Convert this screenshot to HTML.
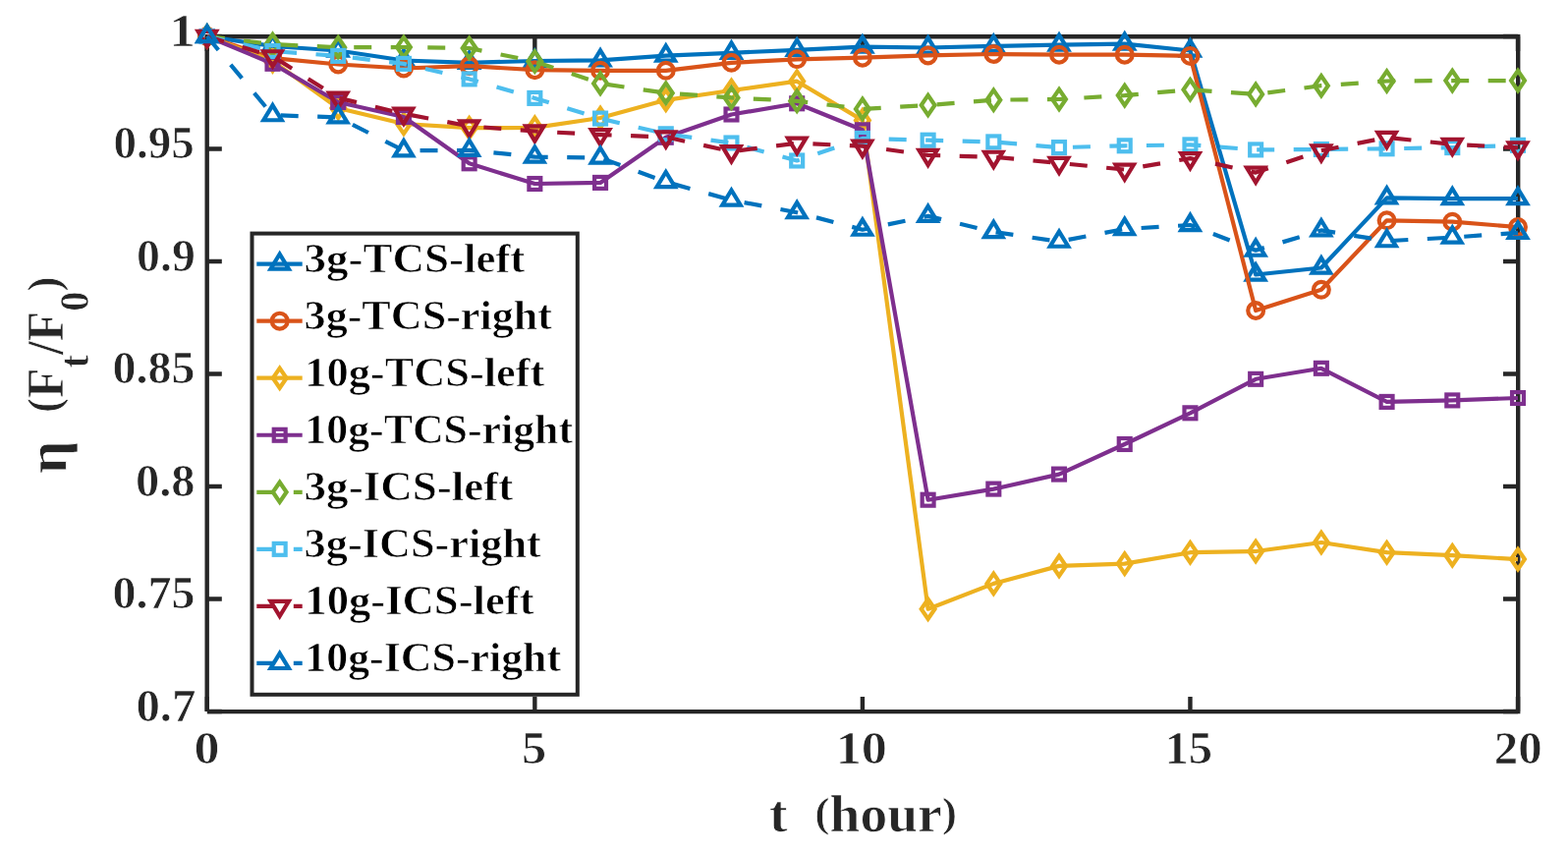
<!DOCTYPE html>
<html><head><meta charset="utf-8"><title>eta vs t</title>
<style>
html,body{margin:0;padding:0;background:#fff;width:1596px;height:868px;overflow:hidden}
svg{display:block}
text{font-family:"Liberation Serif","DejaVu Serif",serif;font-weight:bold;stroke:#fff;stroke-width:0.7px;stroke-linejoin:round}
</style></head><body>
<svg width="1596" height="868" viewBox="0 0 1596 868">
<rect x="0" y="0" width="1596" height="868" fill="#fff"/>
<g fill="none" stroke="#262626" stroke-width="4.4">
<path d="M208.5 37.2H1547.4M1545.2 35V726.3M211.1 724.1H1547.4M210.7 35V723.8"/>
<path d="M210.80 724.0V709.0M210.80 37.0V52.0M544.35 724.0V709.0M544.35 37.0V52.0M877.90 724.0V709.0M877.90 37.0V52.0M1211.45 724.0V709.0M1211.45 37.0V52.0M1545.00 724.0V709.0M1545.00 37.0V52.0M210.8 37.00H225.8M1545.0 37.00H1530.0M210.8 151.50H225.8M1545.0 151.50H1530.0M210.8 266.00H225.8M1545.0 266.00H1530.0M210.8 380.50H225.8M1545.0 380.50H1530.0M210.8 495.00H225.8M1545.0 495.00H1530.0M210.8 609.50H225.8M1545.0 609.50H1530.0M210.8 724.00H225.8M1545.0 724.00H1530.0"/>
</g>
<g fill="none" stroke="#0072BD" stroke-width="4.2">
<polyline points="210.80,37.00 277.51,47.00 344.22,51.50 410.93,61.50 477.64,63.80 544.35,62.00 611.06,61.40 677.77,56.60 744.48,53.80 811.19,50.80 877.90,47.60 944.61,48.50 1011.32,46.90 1078.03,45.70 1144.74,44.60 1211.45,51.50 1278.16,279.50 1344.87,272.50 1411.58,201.40 1478.29,202.10 1545.00,202.10" stroke-linejoin="round"/>
<g><path d="M210.80 26.87L220.00 42.07L201.60 42.07Z"/><path d="M277.51 36.87L286.71 52.07L268.31 52.07Z"/><path d="M344.22 41.37L353.42 56.57L335.02 56.57Z"/><path d="M410.93 51.37L420.13 66.57L401.73 66.57Z"/><path d="M477.64 53.67L486.84 68.87L468.44 68.87Z"/><path d="M544.35 51.87L553.55 67.07L535.15 67.07Z"/><path d="M611.06 51.27L620.26 66.47L601.86 66.47Z"/><path d="M677.77 46.47L686.97 61.67L668.57 61.67Z"/><path d="M744.48 43.67L753.68 58.87L735.28 58.87Z"/><path d="M811.19 40.67L820.39 55.87L801.99 55.87Z"/><path d="M877.90 37.47L887.10 52.67L868.70 52.67Z"/><path d="M944.61 38.37L953.81 53.57L935.41 53.57Z"/><path d="M1011.32 36.77L1020.52 51.97L1002.12 51.97Z"/><path d="M1078.03 35.57L1087.23 50.77L1068.83 50.77Z"/><path d="M1144.74 34.47L1153.94 49.67L1135.54 49.67Z"/><path d="M1211.45 41.37L1220.65 56.57L1202.25 56.57Z"/><path d="M1278.16 269.37L1287.36 284.57L1268.96 284.57Z"/><path d="M1344.87 262.37L1354.07 277.57L1335.67 277.57Z"/><path d="M1411.58 191.27L1420.78 206.47L1402.38 206.47Z"/><path d="M1478.29 191.97L1487.49 207.17L1469.09 207.17Z"/><path d="M1545.00 191.97L1554.20 207.17L1535.80 207.17Z"/></g>
</g>
<g fill="none" stroke="#D95319" stroke-width="4.2">
<polyline points="210.80,37.00 277.51,59.20 344.22,65.50 410.93,69.50 477.64,67.20 544.35,71.20 611.06,71.80 677.77,71.80 744.48,63.80 811.19,60.30 877.90,58.70 944.61,56.40 1011.32,55.00 1078.03,55.70 1144.74,55.70 1211.45,56.90 1278.16,316.00 1344.87,294.80 1411.58,224.30 1478.29,225.70 1545.00,231.00" stroke-linejoin="round"/>
<g><circle cx="210.80" cy="37.00" r="7.9"/><circle cx="277.51" cy="59.20" r="7.9"/><circle cx="344.22" cy="65.50" r="7.9"/><circle cx="410.93" cy="69.50" r="7.9"/><circle cx="477.64" cy="67.20" r="7.9"/><circle cx="544.35" cy="71.20" r="7.9"/><circle cx="611.06" cy="71.80" r="7.9"/><circle cx="677.77" cy="71.80" r="7.9"/><circle cx="744.48" cy="63.80" r="7.9"/><circle cx="811.19" cy="60.30" r="7.9"/><circle cx="877.90" cy="58.70" r="7.9"/><circle cx="944.61" cy="56.40" r="7.9"/><circle cx="1011.32" cy="55.00" r="7.9"/><circle cx="1078.03" cy="55.70" r="7.9"/><circle cx="1144.74" cy="55.70" r="7.9"/><circle cx="1211.45" cy="56.90" r="7.9"/><circle cx="1278.16" cy="316.00" r="7.9"/><circle cx="1344.87" cy="294.80" r="7.9"/><circle cx="1411.58" cy="224.30" r="7.9"/><circle cx="1478.29" cy="225.70" r="7.9"/><circle cx="1545.00" cy="231.00" r="7.9"/></g>
</g>
<g fill="none" stroke="#EDB120" stroke-width="4.2">
<polyline points="210.80,37.00 277.51,62.10 344.22,110.00 410.93,126.00 477.64,130.20 544.35,129.90 611.06,120.00 677.77,101.80 744.48,92.00 811.19,82.70 877.90,122.40 944.61,619.70 1011.32,593.90 1078.03,575.90 1144.74,573.60 1211.45,562.20 1278.16,561.00 1344.87,552.00 1411.58,562.20 1478.29,565.20 1545.00,569.10" stroke-linejoin="round"/>
<g><path d="M210.80 26.90L217.70 37.00L210.80 47.10L203.90 37.00Z"/><path d="M277.51 52.00L284.41 62.10L277.51 72.20L270.61 62.10Z"/><path d="M344.22 99.90L351.12 110.00L344.22 120.10L337.32 110.00Z"/><path d="M410.93 115.90L417.83 126.00L410.93 136.10L404.03 126.00Z"/><path d="M477.64 120.10L484.54 130.20L477.64 140.30L470.74 130.20Z"/><path d="M544.35 119.80L551.25 129.90L544.35 140.00L537.45 129.90Z"/><path d="M611.06 109.90L617.96 120.00L611.06 130.10L604.16 120.00Z"/><path d="M677.77 91.70L684.67 101.80L677.77 111.90L670.87 101.80Z"/><path d="M744.48 81.90L751.38 92.00L744.48 102.10L737.58 92.00Z"/><path d="M811.19 72.60L818.09 82.70L811.19 92.80L804.29 82.70Z"/><path d="M877.90 112.30L884.80 122.40L877.90 132.50L871.00 122.40Z"/><path d="M944.61 609.60L951.51 619.70L944.61 629.80L937.71 619.70Z"/><path d="M1011.32 583.80L1018.22 593.90L1011.32 604.00L1004.42 593.90Z"/><path d="M1078.03 565.80L1084.93 575.90L1078.03 586.00L1071.13 575.90Z"/><path d="M1144.74 563.50L1151.64 573.60L1144.74 583.70L1137.84 573.60Z"/><path d="M1211.45 552.10L1218.35 562.20L1211.45 572.30L1204.55 562.20Z"/><path d="M1278.16 550.90L1285.06 561.00L1278.16 571.10L1271.26 561.00Z"/><path d="M1344.87 541.90L1351.77 552.00L1344.87 562.10L1337.97 552.00Z"/><path d="M1411.58 552.10L1418.48 562.20L1411.58 572.30L1404.68 562.20Z"/><path d="M1478.29 555.10L1485.19 565.20L1478.29 575.30L1471.39 565.20Z"/><path d="M1545.00 559.00L1551.90 569.10L1545.00 579.20L1538.10 569.10Z"/></g>
</g>
<g fill="none" stroke="#7E2F8E" stroke-width="4.2">
<polyline points="210.80,37.00 277.51,64.80 344.22,104.00 410.93,119.00 477.64,166.30 544.35,187.00 611.06,185.90 677.77,139.80 744.48,116.50 811.19,105.30 877.90,132.30 944.61,508.70 1011.32,497.60 1078.03,482.60 1144.74,452.00 1211.45,420.30 1278.16,385.80 1344.87,374.80 1411.58,408.90 1478.29,407.40 1545.00,405.00" stroke-linejoin="round"/>
<g><rect x="204.85" y="31.05" width="11.9" height="11.9"/><rect x="271.56" y="58.85" width="11.9" height="11.9"/><rect x="338.27" y="98.05" width="11.9" height="11.9"/><rect x="404.98" y="113.05" width="11.9" height="11.9"/><rect x="471.69" y="160.35" width="11.9" height="11.9"/><rect x="538.40" y="181.05" width="11.9" height="11.9"/><rect x="605.11" y="179.95" width="11.9" height="11.9"/><rect x="671.82" y="133.85" width="11.9" height="11.9"/><rect x="738.53" y="110.55" width="11.9" height="11.9"/><rect x="805.24" y="99.35" width="11.9" height="11.9"/><rect x="871.95" y="126.35" width="11.9" height="11.9"/><rect x="938.66" y="502.75" width="11.9" height="11.9"/><rect x="1005.37" y="491.65" width="11.9" height="11.9"/><rect x="1072.08" y="476.65" width="11.9" height="11.9"/><rect x="1138.79" y="446.05" width="11.9" height="11.9"/><rect x="1205.50" y="414.35" width="11.9" height="11.9"/><rect x="1272.21" y="379.85" width="11.9" height="11.9"/><rect x="1338.92" y="368.85" width="11.9" height="11.9"/><rect x="1405.63" y="402.95" width="11.9" height="11.9"/><rect x="1472.34" y="401.45" width="11.9" height="11.9"/><rect x="1539.05" y="399.05" width="11.9" height="11.9"/></g>
</g>
<g fill="none" stroke="#77AC30" stroke-width="4.2">
<polyline points="210.80,37.00 277.51,45.10 344.22,48.20 410.93,48.00 477.64,49.00 544.35,62.50 611.06,84.90 677.77,94.70 744.48,99.40 811.19,102.80 877.90,110.90 944.61,107.00 1011.32,101.70 1078.03,101.00 1144.74,97.10 1211.45,91.30 1278.16,95.90 1344.87,87.20 1411.58,82.50 1478.29,82.10 1545.00,82.10" stroke-linejoin="round" stroke-dasharray="18 19.5"/>
<g><path d="M210.80 26.90L217.70 37.00L210.80 47.10L203.90 37.00Z"/><path d="M277.51 35.00L284.41 45.10L277.51 55.20L270.61 45.10Z"/><path d="M344.22 38.10L351.12 48.20L344.22 58.30L337.32 48.20Z"/><path d="M410.93 37.90L417.83 48.00L410.93 58.10L404.03 48.00Z"/><path d="M477.64 38.90L484.54 49.00L477.64 59.10L470.74 49.00Z"/><path d="M544.35 52.40L551.25 62.50L544.35 72.60L537.45 62.50Z"/><path d="M611.06 74.80L617.96 84.90L611.06 95.00L604.16 84.90Z"/><path d="M677.77 84.60L684.67 94.70L677.77 104.80L670.87 94.70Z"/><path d="M744.48 89.30L751.38 99.40L744.48 109.50L737.58 99.40Z"/><path d="M811.19 92.70L818.09 102.80L811.19 112.90L804.29 102.80Z"/><path d="M877.90 100.80L884.80 110.90L877.90 121.00L871.00 110.90Z"/><path d="M944.61 96.90L951.51 107.00L944.61 117.10L937.71 107.00Z"/><path d="M1011.32 91.60L1018.22 101.70L1011.32 111.80L1004.42 101.70Z"/><path d="M1078.03 90.90L1084.93 101.00L1078.03 111.10L1071.13 101.00Z"/><path d="M1144.74 87.00L1151.64 97.10L1144.74 107.20L1137.84 97.10Z"/><path d="M1211.45 81.20L1218.35 91.30L1211.45 101.40L1204.55 91.30Z"/><path d="M1278.16 85.80L1285.06 95.90L1278.16 106.00L1271.26 95.90Z"/><path d="M1344.87 77.10L1351.77 87.20L1344.87 97.30L1337.97 87.20Z"/><path d="M1411.58 72.40L1418.48 82.50L1411.58 92.60L1404.68 82.50Z"/><path d="M1478.29 72.00L1485.19 82.10L1478.29 92.20L1471.39 82.10Z"/><path d="M1545.00 72.00L1551.90 82.10L1545.00 92.20L1538.10 82.10Z"/></g>
</g>
<g fill="none" stroke="#4DBEEE" stroke-width="4.2">
<polyline points="210.80,37.00 277.51,52.00 344.22,56.90 410.93,64.90 477.64,80.40 544.35,99.90 611.06,120.60 677.77,136.30 744.48,145.50 811.19,163.50 877.90,140.90 944.61,142.70 1011.32,144.40 1078.03,150.10 1144.74,148.30 1211.45,147.40 1278.16,152.40 1344.87,152.00 1411.58,151.30 1478.29,150.10 1545.00,147.80" stroke-linejoin="round" stroke-dasharray="18 19.5"/>
<g><rect x="204.85" y="31.05" width="11.9" height="11.9"/><rect x="271.56" y="46.05" width="11.9" height="11.9"/><rect x="338.27" y="50.95" width="11.9" height="11.9"/><rect x="404.98" y="58.95" width="11.9" height="11.9"/><rect x="471.69" y="74.45" width="11.9" height="11.9"/><rect x="538.40" y="93.95" width="11.9" height="11.9"/><rect x="605.11" y="114.65" width="11.9" height="11.9"/><rect x="671.82" y="130.35" width="11.9" height="11.9"/><rect x="738.53" y="139.55" width="11.9" height="11.9"/><rect x="805.24" y="157.55" width="11.9" height="11.9"/><rect x="871.95" y="134.95" width="11.9" height="11.9"/><rect x="938.66" y="136.75" width="11.9" height="11.9"/><rect x="1005.37" y="138.45" width="11.9" height="11.9"/><rect x="1072.08" y="144.15" width="11.9" height="11.9"/><rect x="1138.79" y="142.35" width="11.9" height="11.9"/><rect x="1205.50" y="141.45" width="11.9" height="11.9"/><rect x="1272.21" y="146.45" width="11.9" height="11.9"/><rect x="1338.92" y="146.05" width="11.9" height="11.9"/><rect x="1405.63" y="145.35" width="11.9" height="11.9"/><rect x="1472.34" y="144.15" width="11.9" height="11.9"/><rect x="1539.05" y="141.85" width="11.9" height="11.9"/></g>
</g>
<g fill="none" stroke="#A2142F" stroke-width="4.2">
<polyline points="210.80,37.00 277.51,57.30 344.22,99.60 410.93,115.70 477.64,128.40 544.35,133.50 611.06,137.10 677.77,139.40 744.48,154.20 811.19,145.70 877.90,148.70 944.61,157.90 1011.32,159.80 1078.03,165.90 1144.74,172.60 1211.45,161.10 1278.16,175.60 1344.87,153.30 1411.58,139.90 1478.29,146.80 1545.00,150.30" stroke-linejoin="round" stroke-dasharray="18 19.5"/>
<g><path d="M210.80 47.13L220.00 31.93L201.60 31.93Z"/><path d="M277.51 67.43L286.71 52.23L268.31 52.23Z"/><path d="M344.22 109.73L353.42 94.53L335.02 94.53Z"/><path d="M410.93 125.83L420.13 110.63L401.73 110.63Z"/><path d="M477.64 138.53L486.84 123.33L468.44 123.33Z"/><path d="M544.35 143.63L553.55 128.43L535.15 128.43Z"/><path d="M611.06 147.23L620.26 132.03L601.86 132.03Z"/><path d="M677.77 149.53L686.97 134.33L668.57 134.33Z"/><path d="M744.48 164.33L753.68 149.13L735.28 149.13Z"/><path d="M811.19 155.83L820.39 140.63L801.99 140.63Z"/><path d="M877.90 158.83L887.10 143.63L868.70 143.63Z"/><path d="M944.61 168.03L953.81 152.83L935.41 152.83Z"/><path d="M1011.32 169.93L1020.52 154.73L1002.12 154.73Z"/><path d="M1078.03 176.03L1087.23 160.83L1068.83 160.83Z"/><path d="M1144.74 182.73L1153.94 167.53L1135.54 167.53Z"/><path d="M1211.45 171.23L1220.65 156.03L1202.25 156.03Z"/><path d="M1278.16 185.73L1287.36 170.53L1268.96 170.53Z"/><path d="M1344.87 163.43L1354.07 148.23L1335.67 148.23Z"/><path d="M1411.58 150.03L1420.78 134.83L1402.38 134.83Z"/><path d="M1478.29 156.93L1487.49 141.73L1469.09 141.73Z"/><path d="M1545.00 160.43L1554.20 145.23L1535.80 145.23Z"/></g>
</g>
<g fill="none" stroke="#0072BD" stroke-width="4.2">
<polyline points="210.80,37.00 277.51,117.20 344.22,119.40 410.93,153.30 477.64,152.90 544.35,159.60 611.06,160.60 677.77,185.10 744.48,203.60 811.19,216.20 877.90,233.70 944.61,219.90 1011.32,236.00 1078.03,245.70 1144.74,233.00 1211.45,229.00 1278.16,254.70 1344.87,234.40 1411.58,245.20 1478.29,241.60 1545.00,236.80" stroke-linejoin="round" stroke-dasharray="18 19.5"/>
<g><path d="M210.80 26.87L220.00 42.07L201.60 42.07Z"/><path d="M277.51 107.07L286.71 122.27L268.31 122.27Z"/><path d="M344.22 109.27L353.42 124.47L335.02 124.47Z"/><path d="M410.93 143.17L420.13 158.37L401.73 158.37Z"/><path d="M477.64 142.77L486.84 157.97L468.44 157.97Z"/><path d="M544.35 149.47L553.55 164.67L535.15 164.67Z"/><path d="M611.06 150.47L620.26 165.67L601.86 165.67Z"/><path d="M677.77 174.97L686.97 190.17L668.57 190.17Z"/><path d="M744.48 193.47L753.68 208.67L735.28 208.67Z"/><path d="M811.19 206.07L820.39 221.27L801.99 221.27Z"/><path d="M877.90 223.57L887.10 238.77L868.70 238.77Z"/><path d="M944.61 209.77L953.81 224.97L935.41 224.97Z"/><path d="M1011.32 225.87L1020.52 241.07L1002.12 241.07Z"/><path d="M1078.03 235.57L1087.23 250.77L1068.83 250.77Z"/><path d="M1144.74 222.87L1153.94 238.07L1135.54 238.07Z"/><path d="M1211.45 218.87L1220.65 234.07L1202.25 234.07Z"/><path d="M1278.16 244.57L1287.36 259.77L1268.96 259.77Z"/><path d="M1344.87 224.27L1354.07 239.47L1335.67 239.47Z"/><path d="M1411.58 235.07L1420.78 250.27L1402.38 250.27Z"/><path d="M1478.29 231.47L1487.49 246.67L1469.09 246.67Z"/><path d="M1545.00 226.67L1554.20 241.87L1535.80 241.87Z"/></g>
</g>
<text x="172.20" y="46.70" fill="#262626" font-size="46" textLength="26.68" lengthAdjust="spacingAndGlyphs">1</text>
<text x="115.50" y="161.20" fill="#262626" font-size="46" textLength="82.31" lengthAdjust="spacingAndGlyphs">0.95</text>
<text x="139.00" y="275.70" fill="#262626" font-size="46" textLength="59.81" lengthAdjust="spacingAndGlyphs">0.9</text>
<text x="114.40" y="390.20" fill="#262626" font-size="46" textLength="84.09" lengthAdjust="spacingAndGlyphs">0.85</text>
<text x="137.90" y="504.70" fill="#262626" font-size="46" textLength="60.63" lengthAdjust="spacingAndGlyphs">0.8</text>
<text x="114.40" y="619.20" fill="#262626" font-size="46" textLength="84.09" lengthAdjust="spacingAndGlyphs">0.75</text>
<text x="138.40" y="733.70" fill="#262626" font-size="46" textLength="61.05" lengthAdjust="spacingAndGlyphs">0.7</text>
<text x="197.60" y="777.00" fill="#262626" font-size="46" textLength="26.01" lengthAdjust="spacingAndGlyphs">0</text>
<text x="531.10" y="777.00" fill="#262626" font-size="46" textLength="25.27" lengthAdjust="spacingAndGlyphs">5</text>
<text x="850.70" y="777.00" fill="#262626" font-size="46" textLength="52.19" lengthAdjust="spacingAndGlyphs">10</text>
<text x="1185.40" y="777.00" fill="#262626" font-size="46" textLength="48.82" lengthAdjust="spacingAndGlyphs">15</text>
<text x="1520.70" y="777.00" fill="#262626" font-size="46" textLength="48.89" lengthAdjust="spacingAndGlyphs">20</text>
<text x="783.00" y="846.00" fill="#262626" font-size="52" textLength="191.04" lengthAdjust="spacingAndGlyphs" xml:space="preserve">t  <tspan font-size="43" dy="-5">(</tspan><tspan dy="5">hour</tspan><tspan font-size="43" dy="-5">)</tspan></text>
<g transform="translate(64.4 0) rotate(-90)" fill="#262626"><text x="-482.00" y="2.5" font-size="56" textLength="33.50" lengthAdjust="spacingAndGlyphs">η</text><text x="-420.00" y="0" font-size="52" textLength="138.50" lengthAdjust="spacingAndGlyphs"><tspan font-size="47" dy="-4.5">(</tspan><tspan dy="4.5">F</tspan><tspan font-size="42" dy="26">t</tspan><tspan dy="-26">/F</tspan><tspan font-size="42" dy="26">0</tspan><tspan dy="-30.5" font-size="47">)</tspan></text></g>
<rect x="256.5" y="237.6" width="331.3" height="469.2" fill="#fff" stroke="#262626" stroke-width="4"/>
<g fill="none" stroke="#0072BD" stroke-width="4.2"><path d="M261.3 268.60H307.7"/><path d="M284.70 258.47L293.90 273.67L275.50 273.67Z"/></g>
<text x="309.60" y="277.10" fill="#000" font-size="43" textLength="224.74" lengthAdjust="spacingAndGlyphs">3g-TCS-left</text>
<g fill="none" stroke="#D95319" stroke-width="4.2"><path d="M261.3 326.65H307.7"/><circle cx="284.70" cy="326.65" r="7.9"/></g>
<text x="309.60" y="335.15" fill="#000" font-size="43" textLength="252.33" lengthAdjust="spacingAndGlyphs">3g-TCS-right</text>
<g fill="none" stroke="#EDB120" stroke-width="4.2"><path d="M261.3 384.70H307.7"/><path d="M284.70 374.60L291.60 384.70L284.70 394.80L277.80 384.70Z"/></g>
<text x="310.30" y="393.20" fill="#000" font-size="43" textLength="244.04" lengthAdjust="spacingAndGlyphs">10g-TCS-left</text>
<g fill="none" stroke="#7E2F8E" stroke-width="4.2"><path d="M261.3 442.75H307.7"/><rect x="278.75" y="436.80" width="11.9" height="11.9"/></g>
<text x="310.30" y="451.25" fill="#000" font-size="43" textLength="272.75" lengthAdjust="spacingAndGlyphs">10g-TCS-right</text>
<g fill="none" stroke="#77AC30" stroke-width="4.2"><path d="M261.3 500.80H307.7" stroke-dasharray="18 19.5"/><path d="M284.70 490.70L291.60 500.80L284.70 510.90L277.80 500.80Z"/></g>
<text x="309.60" y="509.30" fill="#000" font-size="43" textLength="212.63" lengthAdjust="spacingAndGlyphs">3g-ICS-left</text>
<g fill="none" stroke="#4DBEEE" stroke-width="4.2"><path d="M261.3 558.85H307.7" stroke-dasharray="18 19.5"/><rect x="278.75" y="552.90" width="11.9" height="11.9"/></g>
<text x="309.60" y="567.35" fill="#000" font-size="43" textLength="241.24" lengthAdjust="spacingAndGlyphs">3g-ICS-right</text>
<g fill="none" stroke="#A2142F" stroke-width="4.2"><path d="M261.3 616.90H307.7" stroke-dasharray="18 19.5"/><path d="M284.70 627.03L293.90 611.83L275.50 611.83Z"/></g>
<text x="310.30" y="625.40" fill="#000" font-size="43" textLength="233.27" lengthAdjust="spacingAndGlyphs">10g-ICS-left</text>
<g fill="none" stroke="#0072BD" stroke-width="4.2"><path d="M261.3 674.95H307.7" stroke-dasharray="18 19.5"/><path d="M284.70 664.82L293.90 680.02L275.50 680.02Z"/></g>
<text x="310.30" y="683.45" fill="#000" font-size="43" textLength="260.84" lengthAdjust="spacingAndGlyphs">10g-ICS-right</text>
</svg>
</body></html>
